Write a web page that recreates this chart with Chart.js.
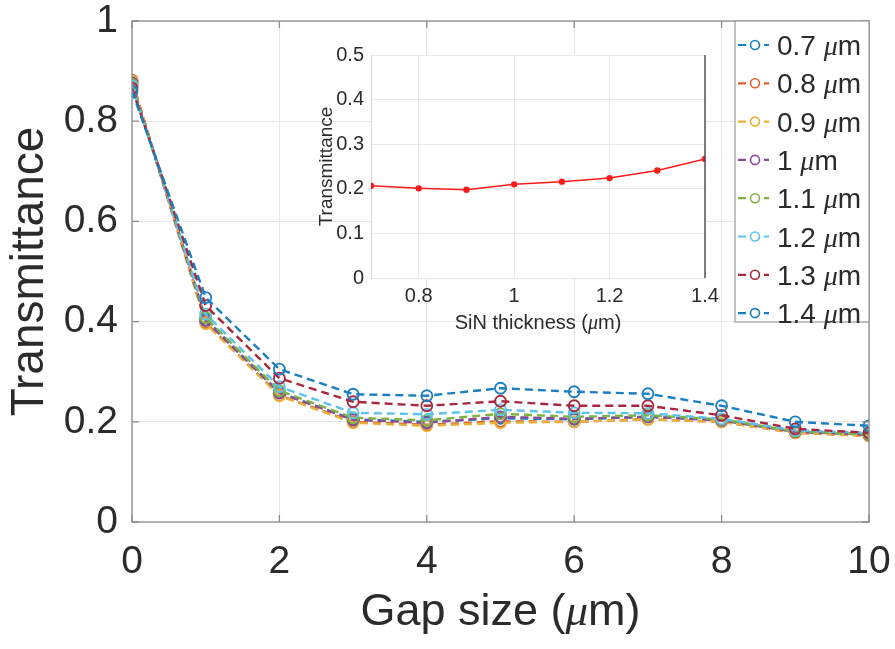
<!DOCTYPE html>
<html><head><meta charset="utf-8">
<script src="https://cdn.jsdelivr.net/npm/chart.js@4.4.1/dist/chart.umd.min.js"></script>
<style>
html,body{margin:0;padding:0;background:#fff;}
#wrap{position:relative;width:895px;height:649px;overflow:hidden;}
#main{position:absolute;left:0;top:0;}
#inset{position:absolute;left:290px;top:30px;}
</style></head><body>
<div id="wrap">
<canvas id="main" width="895" height="649"></canvas>
<canvas id="inset" width="440" height="320"></canvas>
</div>
<script>
// ---------- data ----------
const gapSizes = [0, 1, 2, 3, 4, 5, 6, 7, 8, 9, 10];
const seriesLabels = ['0.7', '0.8', '0.9', '1', '1.1', '1.2', '1.3', '1.4'];
const t07 = [0.878, 0.405, 0.258, 0.205, 0.200, 0.207, 0.205, 0.210, 0.203, 0.180, 0.175];
const t08 = [0.882, 0.398, 0.253, 0.200, 0.194, 0.201, 0.200, 0.205, 0.200, 0.178, 0.172];
const t09 = [0.880, 0.396, 0.252, 0.198, 0.192, 0.198, 0.200, 0.205, 0.200, 0.178, 0.172];
const t10 = [0.876, 0.402, 0.258, 0.204, 0.198, 0.210, 0.206, 0.210, 0.203, 0.180, 0.174];
const t11 = [0.873, 0.408, 0.262, 0.208, 0.203, 0.216, 0.210, 0.213, 0.205, 0.181, 0.175];
const t12 = [0.870, 0.415, 0.270, 0.218, 0.215, 0.224, 0.218, 0.217, 0.206, 0.183, 0.178];
const t13 = [0.866, 0.432, 0.287, 0.240, 0.232, 0.241, 0.232, 0.232, 0.213, 0.186, 0.178];
const t14 = [0.860, 0.448, 0.305, 0.255, 0.252, 0.267, 0.260, 0.256, 0.232, 0.200, 0.192];
const seriesValues = [t07, t08, t09, t10, t11, t12, t13, t14];
const seriesColors = ['#1a7fc1', '#d9622b', '#e8b23a', '#8a4a98', '#7fb242', '#5cc3ee', '#a8283f', '#1a7fc1'];
const xTickValues = [0, 2, 4, 6, 8, 10];
const yTickValues = [0, 0.2, 0.4, 0.6, 0.8, 1];
const xTitleParts = ['Gap size (', 'μ', 'm)'];
const yTitle = 'Transmittance';
const unitParts = [' ', 'μ', 'm'];

const insetThickness = [0.7, 0.8, 0.9, 1.0, 1.1, 1.2, 1.3, 1.4];
const insetTransmittance = [0.207, 0.201, 0.198, 0.210, 0.216, 0.224, 0.241, 0.267];
const insetXTicks = [0.8, 1, 1.2, 1.4];
const insetYTicks = [0, 0.1, 0.2, 0.3, 0.4, 0.5];
const insetXTitleParts = ['SiN thickness (', 'μ', 'm)'];
const insetYTitle = 'Transmittance';

// ---------- helpers ----------
const SANS = '"Liberation Sans", Arial, Helvetica, sans-serif';
const SERIF = '"Liberation Serif", "Times New Roman", serif';
const TEXT = '#2b2b2b';
const fmt = v => String(parseFloat(v.toFixed(2)));

function drawMixed(ctx, parts, size, x, baseline, align) {
  const fonts = parts.map((p, i) => (i === 1 ? 'italic ' + size + 'px ' + SERIF : size + 'px ' + SANS));
  const widths = parts.map((p, i) => { ctx.font = fonts[i]; return ctx.measureText(p).width; });
  const total = widths.reduce((a, b) => a + b, 0);
  let cx = align === 'left' ? x : x - total / 2;
  ctx.textBaseline = 'alphabetic';
  ctx.textAlign = 'left';
  parts.forEach((p, i) => { ctx.font = fonts[i]; ctx.fillText(p, cx, baseline); cx += widths[i]; });
}
function zeroPadX(s) { s.paddingLeft = 0; s.paddingRight = 0; }
function zeroPadY(s) { s.paddingTop = 0; s.paddingBottom = 0; }

// ---------- main chart ----------
const mainDecor = {
  id: 'mainDecor',
  afterDraw(chart) {
    const ctx = chart.ctx, a = chart.chartArea;
    const xs = chart.scales.x, ys = chart.scales.y;
    ctx.save();
    ctx.strokeStyle = '#8c8c8c';
    ctx.lineWidth = 1.3;
    ctx.strokeRect(a.left, a.top, a.right - a.left, a.bottom - a.top);
    ctx.beginPath();
    xTickValues.forEach(v => {
      const px = xs.getPixelForValue(v);
      ctx.moveTo(px, a.bottom); ctx.lineTo(px, a.bottom - 7);
      ctx.moveTo(px, a.top); ctx.lineTo(px, a.top + 7);
    });
    yTickValues.forEach(v => {
      const py = ys.getPixelForValue(v);
      ctx.moveTo(a.left, py); ctx.lineTo(a.left + 7, py);
      ctx.moveTo(a.right, py); ctx.lineTo(a.right - 7, py);
    });
    ctx.stroke();
    ctx.fillStyle = TEXT;
    drawMixed(ctx, xTitleParts, 45, (a.left + a.right) / 2, 625, 'center');
    // legend
    const lx = 735, ly = a.top, lw = a.right - lx, lh = 301;
    ctx.fillStyle = '#ffffff';
    ctx.fillRect(lx, ly, lw, lh);
    ctx.strokeStyle = '#9a9a9a';
    ctx.lineWidth = 1.2;
    ctx.strokeRect(lx, ly, lw, lh);
    seriesLabels.forEach((lab, i) => {
      const cy = ly + 24 + i * 38.3;
      const col = seriesColors[i];
      ctx.strokeStyle = col;
      ctx.lineWidth = 2.2;
      ctx.setLineDash([8, 5]);
      ctx.beginPath(); ctx.moveTo(738, cy); ctx.lineTo(769, cy); ctx.stroke();
      ctx.setLineDash([]);
      ctx.lineWidth = 1.6;
      ctx.beginPath(); ctx.arc(755, cy, 4.5, 0, Math.PI * 2);
      ctx.fillStyle = '#fff'; ctx.fill(); ctx.stroke();
      ctx.fillStyle = TEXT;
      drawMixed(ctx, [lab + unitParts[0], unitParts[1], unitParts[2]], 28, 777, cy + 10, 'left');
    });
    ctx.restore();
  }
};

const mainDatasets = seriesValues.map((vals, i) => ({
  label: seriesLabels[i] + ' μm',
  data: gapSizes.map((g, j) => ({ x: g, y: vals[j] })),
  borderColor: seriesColors[i],
  backgroundColor: 'rgba(0,0,0,0)',
  pointBorderColor: seriesColors[i],
  pointBackgroundColor: 'rgba(255,255,255,0)',
  pointRadius: 5.5,
  pointBorderWidth: 1.8,
  borderWidth: 2.4,
  borderDash: [8, 5],
  tension: 0,
  order: seriesValues.length - 1 - i
}));

new Chart(document.getElementById('main'), {
  type: 'line',
  data: { datasets: mainDatasets },
  options: {
    responsive: false, animation: false, devicePixelRatio: 1,
    layout: { padding: { top: 21, right: 26, left: 0, bottom: 0 } },
    plugins: { legend: { display: false }, tooltip: { enabled: false } },
    scales: {
      x: {
        type: 'linear', min: 0, max: 10,
        afterBuildTicks: s => { s.ticks = xTickValues.map(v => ({ value: v })); },
        afterFit: s => { s.height = 127; zeroPadX(s); },
        ticks: { font: { size: 39, family: SANS }, color: TEXT, padding: 17, maxRotation: 0, callback: v => fmt(v) },
        grid: { color: '#e6e6e6', lineWidth: 1, drawTicks: false },
        border: { display: false }
      },
      y: {
        type: 'linear', min: 0, max: 1,
        afterBuildTicks: s => { s.ticks = yTickValues.map(v => ({ value: v })); },
        afterFit: s => { s.width = 132; zeroPadY(s); },
        ticks: { font: { size: 39, family: SANS }, color: TEXT, padding: 14, callback: v => fmt(v) },
        grid: { color: '#e6e6e6', lineWidth: 1, drawTicks: false },
        border: { display: false },
        title: { display: true, text: yTitle, color: TEXT, font: { size: 46, family: SANS }, padding: { top: 3, bottom: 0 } }
      }
    }
  },
  plugins: [mainDecor]
});

// ---------- inset chart ----------
const insetDecor = {
  id: 'insetDecor',
  beforeDraw(chart) {
    const ctx = chart.ctx, a = chart.chartArea;
    ctx.save();
    ctx.fillStyle = '#ffffff';
    ctx.fillRect(a.left, a.top, a.right - a.left, a.bottom - a.top);
    ctx.restore();
  },
  afterDraw(chart) {
    const ctx = chart.ctx, a = chart.chartArea;
    ctx.save();
    ctx.strokeStyle = '#3a3a3a';
    ctx.lineWidth = 1.3;
    ctx.beginPath(); ctx.moveTo(a.right, a.top); ctx.lineTo(a.right, a.bottom); ctx.stroke();
    ctx.fillStyle = TEXT;
    drawMixed(ctx, insetXTitleParts, 20, (a.left + a.right) / 2, 299, 'center');
    ctx.restore();
  }
};

new Chart(document.getElementById('inset'), {
  type: 'line',
  data: {
    datasets: [{
      label: 'Transmittance',
      data: insetThickness.map((t, j) => ({ x: t, y: insetTransmittance[j] })),
      borderColor: '#ff1a1a', backgroundColor: '#ff1a1a',
      pointBackgroundColor: '#ff1a1a', pointBorderColor: '#ff1a1a',
      pointRadius: 3.2, pointBorderWidth: 0, borderWidth: 1.5, tension: 0
    }]
  },
  options: {
    responsive: false, animation: false, devicePixelRatio: 1,
    layout: { padding: { top: 25, right: 25, left: 0, bottom: 0 } },
    plugins: { legend: { display: false }, tooltip: { enabled: false } },
    scales: {
      x: {
        type: 'linear', min: 0.7, max: 1.4,
        afterBuildTicks: s => { s.ticks = insetXTicks.map(v => ({ value: v })); },
        afterFit: s => { s.height = 72; zeroPadX(s); },
        ticks: { font: { size: 20, family: SANS }, color: TEXT, padding: 6, maxRotation: 0, callback: v => fmt(v) },
        grid: { color: '#e9e9e9', lineWidth: 1, drawTicks: false },
        border: { display: true, color: '#e3e3e3', width: 1 }
      },
      y: {
        type: 'linear', min: 0, max: 0.5,
        afterBuildTicks: s => { s.ticks = insetYTicks.map(v => ({ value: v })); },
        afterFit: s => { s.width = 81; zeroPadY(s); },
        ticks: { font: { size: 20, family: SANS }, color: TEXT, padding: 7, callback: v => fmt(v) },
        grid: { color: '#e9e9e9', lineWidth: 1, drawTicks: false },
        border: { display: true, color: '#d6d6d6', width: 1 },
        title: { display: true, text: insetYTitle, color: TEXT, font: { size: 19, family: SANS }, padding: { top: 25, bottom: 0 } }
      }
    }
  },
  plugins: [insetDecor]
});
</script>
</body></html>
